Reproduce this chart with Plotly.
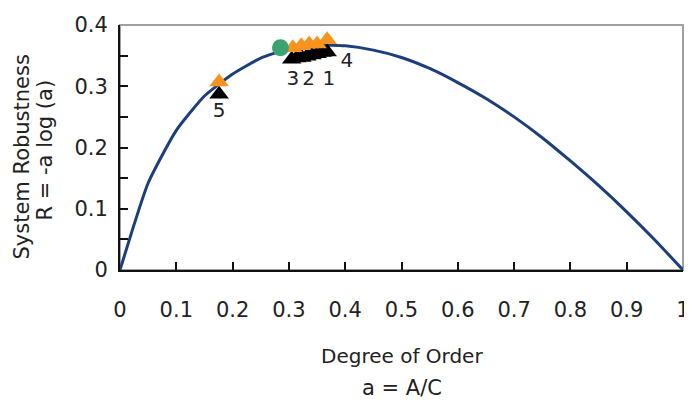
import plotly.graph_objects as go

# Curve: degree of order a vs. system robustness R
curve_a = [0.0, 0.05, 0.10, 0.15, 0.20, 0.25, 0.30, 0.35, 0.40, 0.45, 0.50,
           0.55, 0.60, 0.65, 0.70, 0.75, 0.80, 0.85, 0.90, 0.95, 1.0]
curve_r = [0.0, 0.142, 0.228, 0.284, 0.320, 0.346, 0.361, 0.367, 0.366, 0.359, 0.347,
           0.329, 0.306, 0.280, 0.250, 0.216, 0.178, 0.138, 0.095, 0.049, 0.0]

# Orange triangles
orange_a = [0.176, 0.307, 0.322, 0.336, 0.350, 0.368]
orange_r = [0.307, 0.363, 0.366, 0.369, 0.369, 0.376]

# Black triangles
black_a = [0.176, 0.305, 0.314, 0.323, 0.332, 0.341, 0.350, 0.359, 0.368]
black_r = [0.287, 0.344, 0.346, 0.347, 0.349, 0.351, 0.353, 0.355, 0.356]

# Green circle
green_a = [0.285]
green_r = [0.363]

# Point labels
label_text = ["3", "2", "1", "4", "5"]
label_a = [0.307, 0.335, 0.371, 0.403, 0.176]
label_r = [0.310, 0.310, 0.310, 0.339, 0.258]

x_tickvals = [0, 0.1, 0.2, 0.3, 0.4, 0.5, 0.6, 0.7, 0.8, 0.9, 1.0]
x_ticktext = ["0", "0.1", "0.2", "0.3", "0.4", "0.5", "0.6", "0.7", "0.8", "0.9", "1"]
y_tickvals = [0, 0.05, 0.1, 0.15, 0.2, 0.25, 0.3, 0.35, 0.4]
y_ticktext = ["0", "", "0.1", "", "0.2", "", "0.3", "", "0.4"]

FONT = "DejaVu Sans"
TXT = "#222222"

fig = go.Figure()
fig.add_trace(go.Scatter(x=curve_a, y=curve_r, mode="lines",
                         line=dict(color="#1c3f7c", width=3, shape="spline", smoothing=0.5),
                         hoverinfo="skip", cliponaxis=False))
fig.add_trace(go.Scatter(x=black_a, y=black_r, mode="markers",
                         marker=dict(symbol="triangle-up", size=17, color="#000000"),
                         cliponaxis=False))
fig.add_trace(go.Scatter(x=orange_a, y=orange_r, mode="markers",
                         marker=dict(symbol="triangle-up", size=17, color="#f7931e"),
                         cliponaxis=False))
fig.add_trace(go.Scatter(x=green_a, y=green_r, mode="markers",
                         marker=dict(symbol="circle", size=17, color="#3ba272"),
                         cliponaxis=False))
fig.add_trace(go.Scatter(x=label_a, y=label_r, mode="text", text=label_text,
                         textfont=dict(family=FONT, size=20, color=TXT),
                         cliponaxis=False))

# grey frame (top / right)
fig.add_shape(type="rect", xref="paper", yref="paper", x0=0, y0=0, x1=1, y1=1,
              line=dict(color="#a0a0a0", width=2), layer="below")

# page body adds an 8 px offset, so the figure is sized to fit inside the window
fig.update_layout(
    width=684, height=392,
    margin=dict(l=112, r=9, t=17, b=130, autoexpand=False),
    plot_bgcolor="white", paper_bgcolor="white",
    showlegend=False,
    font=dict(family=FONT, size=20, color=TXT),
    xaxis=dict(range=[0, 1], tickvals=x_tickvals, ticktext=x_ticktext,
               ticks="inside", ticklen=8, tickwidth=2, tickcolor="#111111",
               showline=True, linecolor="#111111", linewidth=2,
               showgrid=False, zeroline=False, automargin=False,
               ticklabelstandoff=20,
               tickfont=dict(family=FONT, size=21, color=TXT)),
    yaxis=dict(range=[0, 0.4], tickvals=y_tickvals, ticktext=y_ticktext,
               ticks="inside", ticklen=8, tickwidth=2, tickcolor="#111111",
               showline=True, linecolor="#111111", linewidth=2,
               showgrid=False, zeroline=False, automargin=False,
               ticklabelstandoff=6,
               tickfont=dict(family=FONT, size=21, color=TXT)),
)

# axis titles
fig.add_annotation(text="Degree of Order", xref="paper", yref="paper", x=0.5, y=0,
                   yshift=-86, xanchor="center", yanchor="middle", showarrow=False,
                   font=dict(family=FONT, size=20, color=TXT))
fig.add_annotation(text="a = A/C", xref="paper", yref="paper", x=0.5, y=0,
                   yshift=-118, xanchor="center", yanchor="middle", showarrow=False,
                   font=dict(family=FONT, size=21, color=TXT))
fig.add_annotation(text="System Robustness", xref="paper", yref="paper", x=0, y=0.5,
                   xshift=-99, yshift=-10, textangle=-90, xanchor="center", yanchor="middle",
                   showarrow=False, font=dict(family=FONT, size=21, color=TXT))
fig.add_annotation(text="R = -a log (a)", xref="paper", yref="paper", x=0, y=0.5,
                   xshift=-76, yshift=-3, textangle=-90, xanchor="center", yanchor="middle",
                   showarrow=False, font=dict(family=FONT, size=21, color=TXT))

fig.write_html("out.html")
